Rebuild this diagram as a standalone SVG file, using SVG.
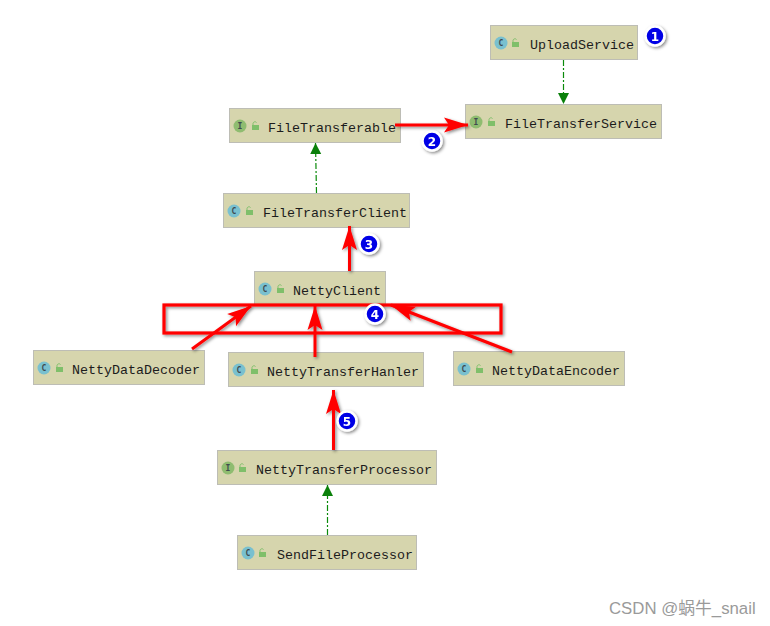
<svg xmlns="http://www.w3.org/2000/svg" width="770" height="626" viewBox="0 0 770 626">
<style>
.box{fill:#d6d5ad;stroke:#bdbdb5;stroke-width:1}
.t{font-family:"Liberation Mono",monospace;font-size:13.33px;fill:#1c1c1c}
.c{fill:#79c0cf}.i{fill:#8fbc70}
.ib{font-family:"DejaVu Sans Mono",monospace;font-size:8px;font-weight:bold;fill:#3f4a4f;text-anchor:middle}
.lock{fill:#7fbf6a}
.lk{fill:none;stroke:#7fbf6a;stroke-width:1}
.dash{fill:none;stroke:#0a8a0a;stroke-width:1.200;stroke-dasharray:6 2 2 2;marker-end:url(#g)}
.red{fill:none;stroke:#f00;stroke-width:3;marker-end:url(#r)}
.rect4{fill:none;stroke:#f00;stroke-width:3.200}
.num circle{fill:#0000e6;stroke:#fff;stroke-width:2.500}
.num text{font-family:"DejaVu Sans",sans-serif;font-size:12px;font-weight:bold;fill:#fff;text-anchor:middle}
.wm{font-family:"Liberation Sans","Noto Sans CJK SC",sans-serif;font-size:16.800px;fill:#9a9a9a}
</style>
<defs>
<marker id="g" markerUnits="userSpaceOnUse" markerWidth="13" markerHeight="12" refX="11" refY="6" orient="auto"><path d="M0 0.500L11 6L0 11.500Z" fill="#0a800a"/></marker>
<marker id="r" markerUnits="userSpaceOnUse" markerWidth="28" markerHeight="20" refX="25" refY="10" orient="auto"><path d="M1 2.500L25 10L1 17.500L6 10Z" fill="#f00"/></marker>
<filter id="s" x="-30%" y="-30%" width="160%" height="160%"><feDropShadow dx="1.500" dy="1.500" stdDeviation="1.500" flood-color="#000" flood-opacity="0.450"/></filter>
<g id="lockc"><rect class="lock" x="0" y="3" width="7" height="5"/><path class="lk" d="M1 3V1.500a2 2 0 0 1 3.500-1"/></g>
</defs>

<g id="node-uploadservice"><rect class="box" x="490.500" y="25.500" width="147" height="34"/><circle class="c" cx="501" cy="43" r="6.500"/><text class="ib" x="501" y="46">C</text><use href="#lockc" x="512" y="39"/><text class="t" x="530" y="49">UploadService</text></g>
<g id="node-filetransferservice"><rect class="box" x="465.500" y="104.500" width="196" height="34"/><circle class="i" cx="476" cy="122" r="6.500"/><text class="ib" x="476" y="125">I</text><use href="#lockc" x="488" y="118"/><text class="t" x="505" y="128">FileTransferService</text></g>
<g id="node-filetransferable"><rect class="box" x="229.500" y="108.500" width="171" height="34"/><circle class="i" cx="240" cy="126" r="6.500"/><text class="ib" x="240" y="129">I</text><use href="#lockc" x="252" y="122"/><text class="t" x="268" y="132">FileTransferable</text></g>
<g id="node-filetransferclient"><rect class="box" x="223.500" y="193.500" width="186" height="34"/><circle class="c" cx="234" cy="211" r="6.500"/><text class="ib" x="234" y="214">C</text><use href="#lockc" x="246" y="207"/><text class="t" x="263" y="217">FileTransferClient</text></g>
<g id="node-nettyclient"><rect class="box" x="254.500" y="271.500" width="131" height="34"/><circle class="c" cx="265" cy="289" r="6.500"/><text class="ib" x="265" y="292">C</text><use href="#lockc" x="277" y="285"/><text class="t" x="293" y="295">NettyClient</text></g>
<g id="node-nettydatadecoder"><rect class="box" x="33.500" y="350.500" width="171" height="34"/><circle class="c" cx="44" cy="368" r="6.500"/><text class="ib" x="44" y="371">C</text><use href="#lockc" x="56" y="364"/><text class="t" x="72" y="374">NettyDataDecoder</text></g>
<g id="node-nettytransferhanler"><rect class="box" x="228.500" y="352.500" width="195" height="34"/><circle class="c" cx="239" cy="370" r="6.500"/><text class="ib" x="239" y="373">C</text><use href="#lockc" x="251" y="366"/><text class="t" x="267" y="376">NettyTransferHanler</text></g>
<g id="node-nettydataencoder"><rect class="box" x="453.500" y="351.500" width="171" height="34"/><circle class="c" cx="464" cy="369" r="6.500"/><text class="ib" x="464" y="372">C</text><use href="#lockc" x="476" y="365"/><text class="t" x="492" y="375">NettyDataEncoder</text></g>
<g id="node-nettytransferprocessor"><rect class="box" x="217.500" y="450.500" width="219" height="34"/><circle class="i" cx="228" cy="468" r="6.500"/><text class="ib" x="228" y="471">I</text><use href="#lockc" x="239" y="464"/><text class="t" x="256" y="474">NettyTransferProcessor</text></g>
<g id="node-sendfileprocessor"><rect class="box" x="237.500" y="535.500" width="179" height="34"/><circle class="c" cx="248" cy="553" r="6.500"/><text class="ib" x="248" y="556">C</text><use href="#lockc" x="259" y="549"/><text class="t" x="277" y="559">SendFileProcessor</text></g>

<g id="connectors">
<path class="dash" d="M563.500 60V104"/>
<path class="dash" d="M316.500 193L315.500 143"/>
<path class="dash" d="M327.500 535V485"/>
<g filter="url(#s)">
<rect class="rect4" x="164" y="305" width="337" height="28"/>
<path class="red" d="M395 125H468"/>
<path class="red" d="M349.500 271V226"/>
<path class="red" d="M192 349L251 306"/>
<path class="red" d="M315 357V306"/>
<path class="red" d="M512 352L391 305"/>
<path class="red" d="M333.500 450V390"/>
</g>
</g>

<g class="num" filter="url(#s)">
<g id="badge-1"><circle cx="655" cy="36" r="9.500"/><text x="655" y="40.500">1</text></g>
<g id="badge-2"><circle cx="432" cy="141" r="9.500"/><text x="432" y="145.500">2</text></g>
<g id="badge-3"><circle cx="369" cy="244" r="9.500"/><text x="369" y="248.500">3</text></g>
<g id="badge-4"><circle cx="375" cy="314" r="9.500"/><text x="375" y="318.500">4</text></g>
<g id="badge-5"><circle cx="347" cy="421" r="9.500"/><text x="347" y="425.500">5</text></g>
</g>
<text class="wm" x="609" y="614">CSDN @蜗牛_snail</text>
</svg>
